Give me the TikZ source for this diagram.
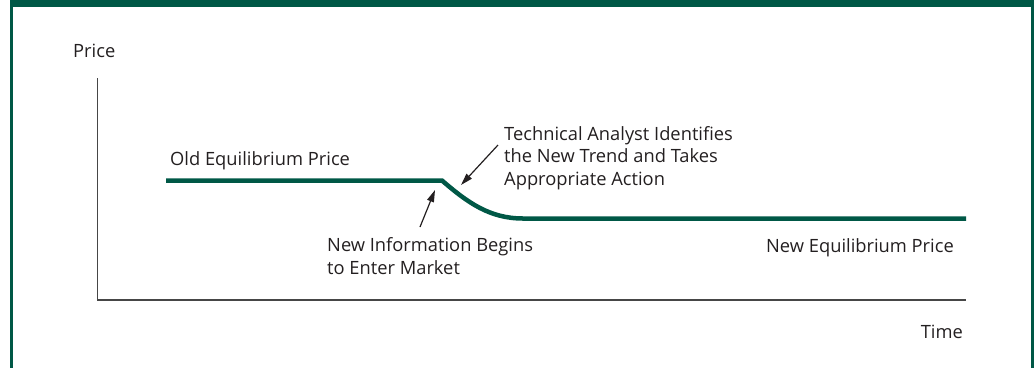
\documentclass[tikz,border=0pt]{standalone}
\usepackage{fontspec}
\setmainfont{Open Sans}
\usetikzlibrary{arrows.meta}
\definecolor{dkgreen}{RGB}{0,88,70}
\definecolor{axisgray}{RGB}{70,70,70}
\definecolor{txt}{RGB}{35,31,32}
\tikzset{
  lbl/.style={inner sep=0pt, text=txt, font=\fontsize{18.3}{22.6}\selectfont, align=left},
  axisline/.style={draw=axisgray, line width=1.3pt},
  priceline/.style={draw=dkgreen, line width=4.5pt},
  pointer/.style={draw=txt, line width=1.2pt, -{Triangle[length=12pt,width=7pt]}},
}
\begin{document}
\begin{tikzpicture}[x=1pt,y=-1pt]
\useasboundingbox (0,0) rectangle (1036,368);
% frame
\fill[dkgreen] (10,0) rectangle (1034,7);
\fill[dkgreen] (10,0) rectangle (12.5,368);
\fill[dkgreen] (1031,0) rectangle (1034,368);
% axes
\coordinate (ytop) at (97.7,78);
\coordinate (origin) at (97.7,300);
\coordinate (xend) at (966,300);
\draw[axisline] (ytop) -- (origin) -- (xend);
% labels
\node[lbl, anchor=base west] (price) at (73,57) {Price};
\node[lbl, anchor=base east] (time) at (963,338) {Time};
\node[lbl, anchor=base west] (old) at (170,165) {Old Equilibrium Price};
\node[lbl, anchor=base east] (new) at (954,252.5) {New Equilibrium Price};
\node[lbl, anchor=base west] (tech) at (504,185.5) {Technical Analyst Identifies\\the New Trend and Takes\\Appropriate Action};
\node[lbl, anchor=base west] (info) at (327,274.5) {New Information Begins\\to Enter Market};
% price path
\coordinate (oldstart) at (166,180.5);
\coordinate (kink) at (442,180.5);
\coordinate (newstart) at (523,218.5);
\coordinate (newend) at (966,218.5);
\draw[priceline] (oldstart) -- (kink) .. controls (468,203) and (490,218.5) .. (newstart) -- (newend);
% pointers
\coordinate (infotail) at (420,227);
\coordinate (infotip) at (435,190);
\coordinate (techtail) at (498,145);
\coordinate (techtip) at (461,185);
\draw[pointer] (infotail) -- (infotip);
\draw[pointer] (techtail) -- (techtip);
\end{tikzpicture}
\end{document}
